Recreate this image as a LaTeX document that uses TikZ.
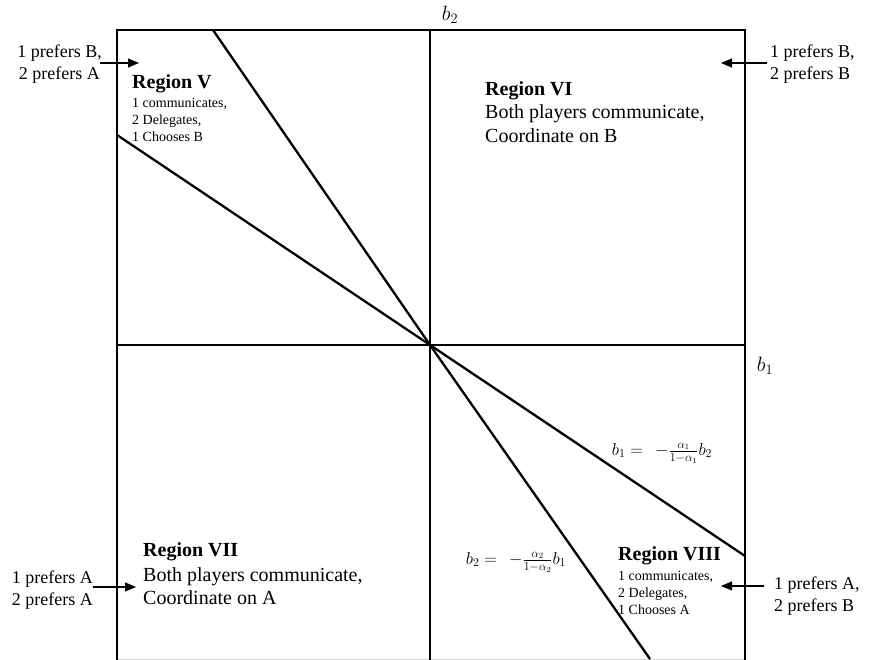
\documentclass[tikz,border=0pt]{standalone}
\usepackage{amsmath}
\usepackage{fontspec}
\setmainfont{Liberation Serif}
\usetikzlibrary{arrows.meta}
\begin{document}
\begin{tikzpicture}[x=1pt,y=-1pt,
  frame/.style={line width=2.3pt},
  divline/.style={line width=2.3pt},
  ptr/.style={line width=1.1pt,-{Triangle[length=11pt,width=9pt]}},
  side/.style={font=\fontsize{18}{22}\selectfont, inner sep=0pt},
  rtitle/.style={font=\fontsize{20}{24}\selectfont\bfseries, inner sep=0pt, anchor=base west},
  rbig/.style={font=\fontsize{20}{24}\selectfont, inner sep=0pt, anchor=base west},
  rsmall/.style={font=\fontsize{14}{17}\selectfont, inner sep=0pt, anchor=base west},
  eqn/.style={font=\fontsize{17}{20}\selectfont, inner sep=0pt},
  axlab/.style={font=\fontsize{20}{24}\selectfont, inner sep=0pt}
]
\useasboundingbox (0,0) rectangle (869,660);
% frame
\coordinate (TL) at (117,30);
\coordinate (TR) at (745,30);
\coordinate (BL) at (117,660);
\coordinate (BR) at (745,660);
\coordinate (TM) at (430,30);
\coordinate (BM) at (430,660);
\coordinate (LM) at (117,345);
\coordinate (RM) at (745,345);
\coordinate (O) at (430,345);
\draw[gray!35, line width=1pt] (117,659) -- (745,659);
\draw[frame] (BL) -- (TL) -- (TR) -- (BR);
\draw[divline] (TM) -- (BM);
\draw[divline] (LM) -- (RM);
% slanted lines
\coordinate (S1) at (213,30);
\coordinate (S2) at (650,659);
\coordinate (H1) at (117,135);
\coordinate (H2) at (745,556);
\draw[divline] (S1) -- (O) -- (S2);
\draw[divline] (H1) -- (O) -- (H2);
% axis labels
\node[axlab] (b2lab) at (450,15) {$b_2$};
\node[axlab] (b1lab) at (765,366) {$b_1$};
% equations
\node[eqn] (eq1) at (662,453) {$b_1 =\;\, -\tfrac{\alpha_1}{1-\alpha_1}b_2$};
\node[eqn] (eq2) at (516,562) {$b_2 =\;\, -\tfrac{\alpha_2}{1-\alpha_2}b_1$};
% Region V
\node[rtitle] (r5t) at (132,88.6) {Region V};
\node[rsmall] (r5a) at (132,107.6) {1 communicates,};
\node[rsmall] (r5b) at (132,124.6) {2 Delegates,};
\node[rsmall] (r5c) at (132,141.6) {1 Chooses B};
% Region VI
\node[rtitle] (r6t) at (485,95.6) {Region VI};
\node[rbig] (r6a) at (485,118.6) {Both players communicate,};
\node[rbig] (r6b) at (485,142.6) {Coordinate on B};
% Region VII
\node[rtitle] (r7t) at (143,556.6) {Region VII};
\node[rbig] (r7a) at (143,581.6) {Both players communicate,};
\node[rbig] (r7b) at (143,604.6) {Coordinate on A};
% Region VIII
\node[rtitle] (r8t) at (618,560.6) {Region VIII};
\node[rsmall] (r8a) at (618,580) {1 communicates,};
\node[rsmall] (r8b) at (618,597) {2 Delegates,};
\node[rsmall] (r8c) at (618,614) {1 Chooses A};
% side labels
\node[side, anchor=base east] (lt1) at (102,58) {1 prefers B,};
\node[side, anchor=base east] (lt2) at (100,80) {2 prefers A};
\coordinate (ltS) at (100,63);
\coordinate (ltE) at (139,63);
\draw[ptr] (ltS) -- (ltE);
\node[side, anchor=base west] (rt1) at (770,58) {1 prefers B,};
\node[side, anchor=base west] (rt2) at (770,80) {2 prefers B};
\coordinate (rtS) at (767,63);
\coordinate (rtE) at (721,63);
\draw[ptr] (rtS) -- (rtE);
\node[side, anchor=base east] (lb1) at (93,583) {1 prefers A};
\node[side, anchor=base east] (lb2) at (93,605) {2 prefers A};
\coordinate (lbS) at (93,587);
\coordinate (lbE) at (136,587);
\draw[ptr] (lbS) -- (lbE);
\node[side, anchor=base west] (rb1) at (774,589) {1 prefers A,};
\node[side, anchor=base west] (rb2) at (774,611) {2 prefers B};
\coordinate (rbS) at (764,586);
\coordinate (rbE) at (721,586);
\draw[ptr] (rbS) -- (rbE);
\end{tikzpicture}
\end{document}
